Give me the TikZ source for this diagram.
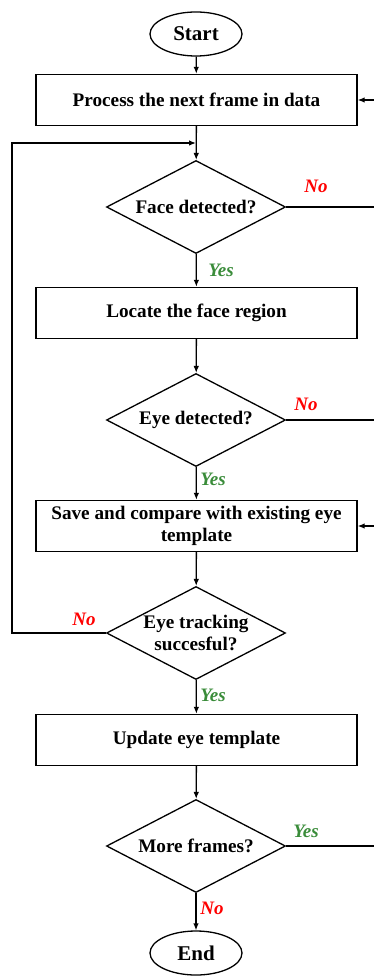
\documentclass[tikz,border=0pt]{standalone}
\usepackage{fontspec}
\setmainfont{Liberation Serif}
\usetikzlibrary{shapes.geometric,arrows.meta}
\definecolor{yesgreen}{RGB}{58,140,58}

\tikzset{
  block/.style={draw, rectangle, minimum width=321pt, minimum height=51pt,
    align=center, font=\bfseries\fontsize{19.2}{22}\selectfont},
  decision/.style={draw, diamond, aspect=1.92, minimum width=179pt,
    minimum height=93pt, inner sep=0pt, align=center,
    font=\bfseries\fontsize{19.2}{22}\selectfont},
  terminal/.style={draw, ellipse, minimum width=92pt, minimum height=44pt,
    inner sep=0pt, font=\bfseries\fontsize{21}{22}\selectfont},
  nolabel/.style={text=red, font=\bfseries\itshape\fontsize{19}{20}\selectfont},
  yeslabel/.style={text=yesgreen, font=\bfseries\itshape\fontsize{19}{20}\selectfont}
}

\begin{document}
\begin{tikzpicture}[x=1pt, y=-1pt, line width=1.3pt, >={Latex[length=7pt,width=5.5pt]}]
  \useasboundingbox (0,0) rectangle (374,976);

  % nodes
  \node[terminal] (start) at (196,34) {Start};
  \node[block] (proc) at (196.5,100) {Process the next frame in data};
  \node[decision] (face) at (196,207) {Face detected?};
  \node[block] (locate) at (196.5,313) {Locate the face region};
  \node[decision] (eye) at (196,420) {Eye detected?};
  \node[block] (save) at (196.5,526) {Save and compare with existing eye\\template};
  \node[decision] (track) at (196,633) {Eye tracking\\succesful?};
  \node[block] (update) at (196.5,740) {Update eye template};
  \node[decision] (more) at (196,846) {More frames?};
  \node[terminal] (stop) at (196,953) {End};

  % free ends on the right edge and the loop on the left
  \coordinate (rProc) at (374,100);
  \coordinate (rFace) at (374,207);
  \coordinate (rEye) at (374,420);
  \coordinate (rSave) at (374,526);
  \coordinate (rMore) at (374,846);
  \coordinate (loopB) at (12,633);
  \coordinate (loopT) at (12,143);
  \coordinate (join) at (196,143);

  % main flow
  \draw[->] (start) -- (proc);
  \draw[->] (proc) -- (face);
  \draw[->] (face) -- (locate);
  \draw[->] (locate) -- (eye);
  \draw[->] (eye) -- (save);
  \draw[->] (save) -- (track);
  \draw[->] (track) -- (update);
  \draw[->] (update) -- (more);
  \draw[->] (more) -- (stop);

  % side branches
  \draw (face.east) -- (rFace);
  \draw (eye.east) -- (rEye);
  \draw (more.east) -- (rMore);
  \draw[->] (rProc) -- (proc.east);
  \draw[->] (rSave) -- (save.east);
  \draw[->] (track.west) -- (loopB) -- (loopT) -- (join);

  % labels
  \node[nolabel] (noFace) at (316,186) {No};
  \node[yeslabel] (yesFace) at (221,270) {Yes};
  \node[nolabel] (noEye) at (306,404) {No};
  \node[yeslabel] (yesEye) at (213,479) {Yes};
  \node[nolabel] (noTrack) at (84,619) {No};
  \node[yeslabel] (yesTrack) at (213,695) {Yes};
  \node[yeslabel] (yesMore) at (306,831) {Yes};
  \node[nolabel] (noMore) at (212,908) {No};
\end{tikzpicture}
\end{document}
